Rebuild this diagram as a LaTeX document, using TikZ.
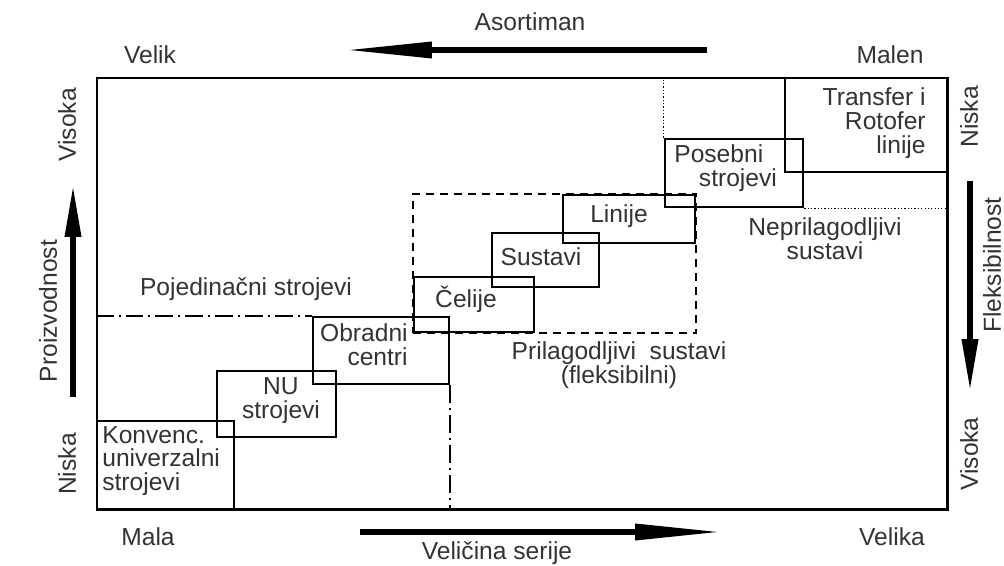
\documentclass[tikz,border=0pt]{standalone}
\usepackage{fontspec}
\setmainfont{Liberation Sans}
\usetikzlibrary{arrows.meta,fit}

\begin{document}
\begin{tikzpicture}[x=0.02cm,y=-0.02cm,
    lbl/.style={font=\fontsize{14}{13.6}\selectfont, text=black!80, inner sep=0pt},
    box/.style={draw, line width=1.5pt, inner sep=0pt},
    frame/.style={draw, line width=1.7pt, inner sep=0pt},
    longarrow/.style={line width=3.8pt, -{Triangle[length=1.8cm,width=0.3cm]}},
    shortarrow/.style={line width=3.8pt, -{Triangle[length=1.08cm,width=0.3cm]}}]
        \useasboundingbox (0,0) rectangle (1004,565);

        % outer field
        \node[frame, fit={(97,78) (947,509)}] (field) {};

        % machine groups
        \node[box, fit={(97,421) (234,509)}] (konv) {};
        \node[box, fit={(217,371) (336,437)}] (nu) {};
        \node[box, fit={(313,317) (449,384)}] (obr) {};
        \node[box, fit={(414,277) (534,332)}] (celije) {};
        \node[box, fit={(492,233) (599,287)}] (sustavi) {};
        \node[box, fit={(563,195) (695,243)}] (linije) {};
        \node[box, fit={(665,139) (803,207)}] (posebni) {};
        \node[box, fit={(785,78) (947,172)}] (transfer) {};

        % flexible systems
        \node[draw, line width=1.2pt, inner sep=0pt, dash pattern=on 0.16cm off 0.12cm,
            fit=(celije)(linije)] (flex) {};

        % borders of the regions
        \draw[line width=1.1pt, dash pattern=on 0.36cm off 0.1cm on 0.04cm off 0.1cm]
            (obr.north west -| field.west) -- (obr.north west);
        \draw[line width=1.1pt, dash pattern=on 0.36cm off 0.1cm on 0.04cm off 0.1cm]
            (obr.south east) -- (obr.south east |- field.south);
        \draw[line width=0.7pt, dash pattern=on 0.7pt off 1.2pt] (posebni.north west) -- (posebni.north west |- field.north);
        \draw[line width=0.7pt, dash pattern=on 0.7pt off 1.2pt] (posebni.south east) -- (posebni.south east -| field.east);

        % box labels
        \node[lbl, anchor=west, align=left] (konv-t) at (102,461) {Konvenc.\\univerzalni\\strojevi};
        \node[lbl, align=center] (nu-t) at (281,401) {NU\\strojevi};
        \node[lbl, anchor=east, align=right] (obr-t) at (408,345) {Obradni\\centri};
        \node[lbl] (celije-t) at (466,299) {Čelije};
        \node[lbl] (sustavi-t) at (541,257) {Sustavi};
        \node[lbl] (linije-t) at (619,216) {Linije};
        \node[lbl, anchor=west, align=left] (posebni-t) at (674,168) {Posebni\\\hspace*{1em}strojevi};
        \node[lbl, anchor=east, align=right] (transfer-t) at (926,123) {Transfer i\\Rotofer\\linije};

        % region labels
        \node[lbl] (pojed-t) at (246,289) {Pojedinačni strojevi};
        \node[lbl, align=center] (flex-t) at (619,365) {Prilagodljivi\ \ sustavi\\(fleksibilni)};
        \node[lbl, align=center] (neprilag-t) at (825,239) {Neprilagodljivi\\sustavi};

        % top axis
        \node[lbl] (asort) at (530,22) {Asortiman};
        \node[lbl] (velik) at (150,55) {Velik};
        \node[lbl] (malen) at (890,55) {Malen};
        \coordinate (asort-a) at (707,50);
        \coordinate (asort-b) at (342,50);
        \draw[longarrow] (asort-a) -- (asort-b);

        % bottom axis
        \node[lbl] (mala) at (148,537) {Mala};
        \node[lbl] (velika) at (892,537) {Velika};
        \node[lbl] (serija) at (497,553) {Veličina serije};
        \coordinate (serija-a) at (360,532);
        \coordinate (serija-b) at (725,532);
        \draw[longarrow] (serija-a) -- (serija-b);

        % left axis
        \node[lbl, rotate=90] (visoka-l) at (67,125) {Visoka};
        \node[lbl, rotate=90] (niska-l) at (67,464) {Niska};
        \node[lbl, rotate=90] (proizv) at (48,311) {Proizvodnost};
        \coordinate (proizv-a) at (73,397);
        \coordinate (proizv-b) at (73,183);
        \draw[shortarrow] (proizv-a) -- (proizv-b);

        % right axis
        \node[lbl, rotate=90] (niska-r) at (969,117) {Niska};
        \node[lbl, rotate=90] (visoka-r) at (969,454) {Visoka};
        \node[lbl, rotate=90] (fleks) at (992,265) {Fleksibilnost};
        \coordinate (fleks-a) at (970,181);
        \coordinate (fleks-b) at (970,393);
        \draw[shortarrow] (fleks-a) -- (fleks-b);
\end{tikzpicture}
\end{document}
